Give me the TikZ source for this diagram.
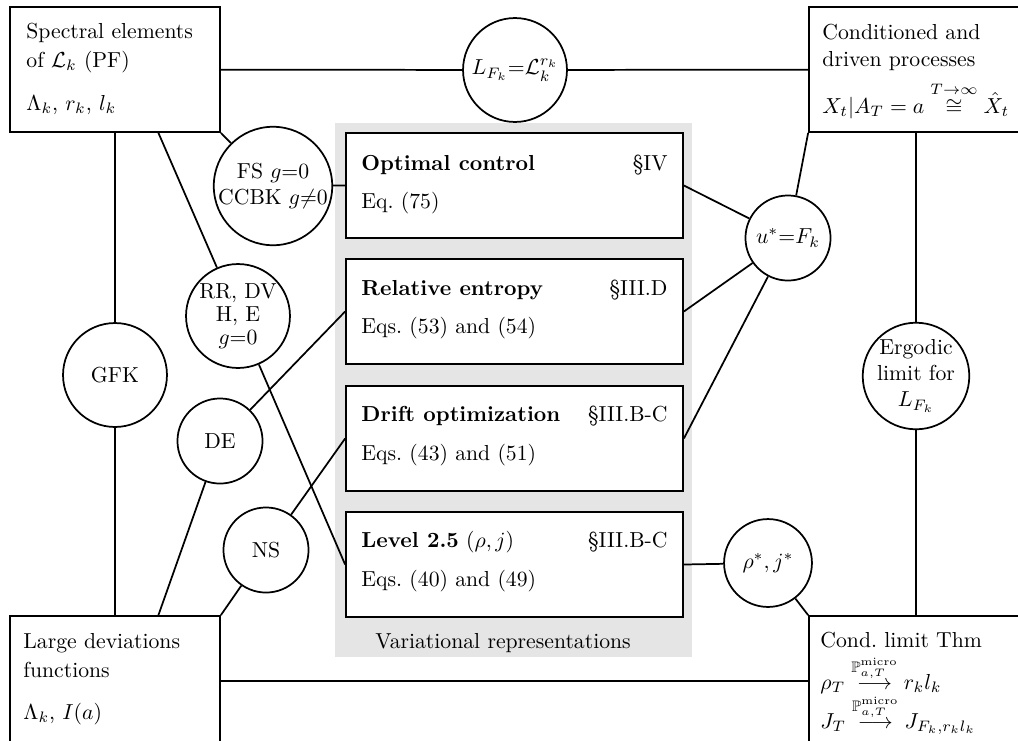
\documentclass[tikz,border=0pt]{standalone}
\usepackage{amsmath,amssymb}
\usetikzlibrary{calc}
\begin{document}
\begin{tikzpicture}[x=0.4608pt,y=-0.4608pt,
  box/.style={draw, line width=0.8pt, rectangle, inner sep=0pt, fill=white},
  circ/.style={draw, line width=0.8pt, circle, inner sep=0pt, align=center, fill=white, minimum size=#1},
  conn/.style={line width=0.8pt},
  txt/.style={anchor=base west, inner sep=0pt},
  sec/.style={anchor=base east, inner sep=0pt}]
\clip (0,0) rectangle (1018,740);
\fill[gray!20] (335,123) rectangle (692,657);
\node[sec, anchor=base] (vr) at (503,648) {Variational representations};

% corner boxes
\node[box, minimum width=96.77pt, minimum height=57.6pt] (tl) at (115,69.5) {};
\node[box, minimum width=98.6pt, minimum height=57.6pt] (tr) at (916,69.5) {};
\node[box, minimum width=96.77pt, minimum height=59.9pt] (bl) at (115,681) {};
\node[box, minimum width=98.6pt, minimum height=59.9pt] (br) at (916,681) {};

\node[txt] (tl1) at (26,38) {Spectral elements};
\node[txt] (tl2) at (26,67) {of $\mathcal{L}_k$ (PF)};
\node[txt] (tl3) at (26,110) {$\Lambda_k$, $r_k$, $l_k$};

\node[txt] (tr1) at (822,39) {Conditioned and};
\node[txt] (tr2) at (822,66) {driven processes};
\node[txt] (tr3) at (822,113) {$X_t|A_T=a\stackrel{T\to\infty}{\cong}\hat{X}_t$};

\node[txt] (bl1) at (23,648) {Large deviations};
\node[txt] (bl2) at (23,677) {functions};
\node[txt] (bl3) at (23,719) {$\Lambda_k$, $I(a)$};

\node[txt] (br1) at (820,647) {Cond.\ limit Thm};
\node[txt] (br2) at (820,689) {$\rho_T \stackrel{\mathbb{P}^{\mathrm{micro}}_{a,T}}{\longrightarrow} r_k l_k$};
\node[txt] (br3) at (820,728) {$J_T \stackrel{\mathbb{P}^{\mathrm{micro}}_{a,T}}{\longrightarrow} J_{F_k,r_kl_k}$};

% centre boxes
\node[box, minimum width=155.3pt, minimum height=48.4pt] (opt) at (514.5,185.5) {};
\node[box, minimum width=155.3pt, minimum height=48.4pt] (rel) at (514.5,311.5) {};
\node[box, minimum width=155.3pt, minimum height=48.4pt] (drift) at (514.5,438.5) {};
\node[box, minimum width=155.3pt, minimum height=48.4pt] (lev) at (514.5,564.5) {};

\node[txt] (opt1) at (361,170) {\textbf{Optimal control}};
\node[sec] (opt2) at (668,170) {\S IV};
\node[txt] (opt3) at (361,208) {Eq.\ (75)};

\node[txt] (rel1) at (361,295) {\textbf{Relative entropy}};
\node[sec] (rel2) at (668,295) {\S III.D};
\node[txt] (rel3) at (361,333) {Eqs.\ (53) and (54)};

\node[txt] (dr1) at (361,421) {\textbf{Drift optimization}};
\node[sec] (dr2) at (668,421) {\S III.B-C};
\node[txt] (dr3) at (361,460) {Eqs.\ (43) and (51)};

\node[txt] (lv1) at (361,547) {\textbf{Level 2.5} $(\rho,j)$};
\node[sec] (lv2) at (668,547) {\S III.B-C};
\node[txt] (lv3) at (361,586) {Eqs.\ (40) and (49)};

% circles
\node[circ=47.9pt] (lc) at (515,70) {$L_{F_k}{=}\mathcal{L}_k^{r_k}$};
\node[circ=50.7pt] (fs) at (273,186) {FS $g{=}0$\\CCBK $g{\neq}0$};
\node[circ=47.9pt] (rr) at (238,316) {RR, DV\\[-1.5pt]H, E\\[-1.5pt]$g{=}0$};
\node[circ=47.9pt] (gfk) at (115,375) {GFK};
\node[circ=39.2pt] (de) at (220,441) {DE};
\node[circ=39.2pt] (ns) at (266,550) {NS};
\node[circ=39.2pt] (us) at (788,238) {$u^*{=}F_k$};
\node[circ=40.5pt] (rho) at (768,563) {$\rho^*, j^*$};
\node[circ=48.8pt] (erg) at (916,376) {Ergodic\\limit for\\$L_{F_k}$};

% connectors
\draw[conn] (tl) -- (lc) -- (tr);
\draw[conn] (tl.south) -- (gfk) -- (bl.north);
\draw[conn] ($(tl.south west)!0.705!(tl.south east)$) -- (rr) -- (lev.west);
\draw[conn] (tl.south east) -- (fs) -- (opt.west);
\draw[conn] ($(bl.north west)!0.705!(bl.north east)$) -- (de) -- (rel.west);
\draw[conn] (bl.north east) -- (ns) -- (drift.west);
\draw[conn] (opt.east) -- (us);
\draw[conn] (rel.east) -- (us);
\draw[conn] (drift.east) -- (us);
\draw[conn] (us) -- (tr.south west);
\draw[conn] (tr.south) -- (erg) -- (br.north);
\draw[conn] (lev.east) -- (rho) -- (br.north west);
\draw[conn] (bl.east) -- (br.west);
\end{tikzpicture}
\end{document}
